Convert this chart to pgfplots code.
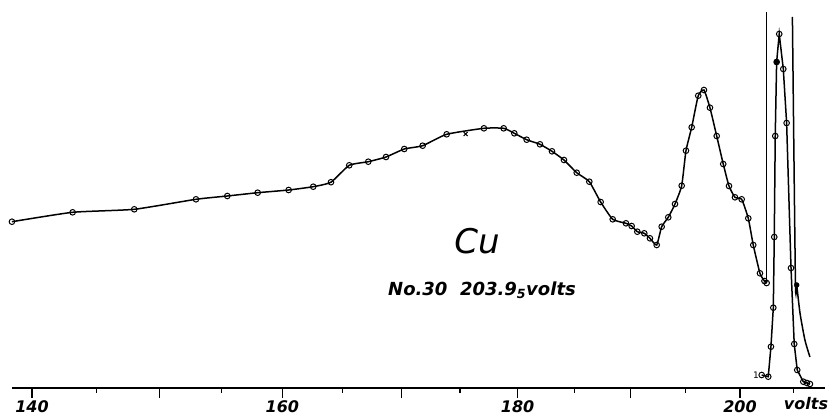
\documentclass[border=0pt]{standalone}
\usepackage{fontspec}
\setmainfont{DejaVu Sans}
\usepackage{pgfplots}
\pgfplotsset{compat=1.18}
\usepackage{pgfplotstable}

\pgfplotstableread{
V h
138.46 166.3
143.16 175.7
148.01 178.7
152.95 188.7
155.49 192.0
157.97 195.3
160.52 198.0
162.56 201.3
164.04 205.8
165.57 222.7
167.17 226.3
168.67 231.0
170.22 239.0
171.79 242.3
173.85 253.7
177.07 259.7
178.79 259.7
179.72 254.7
180.80 248.3
181.97 243.7
183.03 236.7
184.09 228.0
185.22 215.3
186.34 206.3
187.35 186.0
188.43 168.7
189.62 164.7
190.13 162.0
190.64 156.3
191.27 154.7
191.78 149.7
192.39 143.0
192.84 161.3
193.44 170.7
194.05 184.0
194.66 202.3
195.05 237.3
195.57 260.7
196.17 292.3
196.69 298.0
197.24 280.3
197.86 252.0
198.46 224.0
198.99 202.0
199.54 190.7
200.16 188.7
200.77 169.7
201.23 143.0
201.85 114.7
202.27 107.0
202.47 105.0
}\mainpts

\pgfplotstableread{
V h
202.47 105
202.47 376
}\leftrise

\pgfplotstableread{
V h
204.87 371
205.15 108
205.27 103
205.58 75
206.04 48
206.51 31
}\rightfall

\pgfplotstableread{
V h
202.01 13
202.62 11.3
202.87 41.3
203.09 80.3
203.18 151
203.27 252
203.40 326
203.64 354
204.02 319
204.33 265
204.74 120
205.04 44
205.32 18
205.89 6.3
206.23 5
206.51 4
}\inner

\begin{document}
\begin{tikzpicture}[x=1pt,y=1pt]
\useasboundingbox (0,0) rectangle (835,418);
\begin{axis}[
  at={(12pt,30pt)}, anchor=south west,
  scale only axis, width=813pt, height=388pt,
  x coord trafo/.code={\pgfmathparse{sqrt(#1)}},
  x coord inv trafo/.code={\pgfmathparse{(#1)^2}},
  xmin=138.46, xmax=207.92, ymin=0, ymax=388,
  axis x line=bottom, axis y line=none,
  axis line style={-, line width=1.5pt},
  xtick={140,150,160,170,180,190,200},
  minor xtick={145,155,165,175,185,195,205},
  xticklabels={140,,160,,180,,200},
  major tick length=10pt, minor tick length=5pt,
  tick align=outside,
  every tick/.style={line width=1.2pt, black},
  xticklabel style={font=\fontsize{16}{16}\selectfont\bfseries\itshape, yshift=1pt},
  clip=false,
]
\addplot[black, line width=1.5pt, smooth, tension=0.3, no marks] table {\mainpts};
\addplot[black, only marks, mark=o, mark size=2.8pt, mark options={line width=1pt, fill=white}] table {\mainpts};
\addplot[black, only marks, mark=x, mark size=2.8pt, mark options={line width=1pt}] coordinates {(175.49,254)};
\addplot[black, line width=1.5pt, no marks] table {\leftrise};
\addplot[black, line width=1.5pt, smooth, tension=0.4, no marks] table {\rightfall};
\addplot[black, only marks, mark=*, mark size=2.5pt] coordinates {(205.27,103)};
\addplot[black, line width=1.5pt, mark=o, mark size=2.8pt, mark options={line width=1pt, fill=white}] table {\inner};
\addplot[black, only marks, mark=*, mark size=2.6pt] coordinates {(203.40,326)};
\end{axis}
\node[font=\fontsize{34}{34}\selectfont\itshape] at (477,177) {Cu};
\node[font=\fontsize{18}{18}\selectfont\bfseries\itshape] at (482,128) {No.30\ \ 203.9\textsubscript{5}volts};
\node[font=\fontsize{16}{16}\selectfont\bfseries\itshape] at (806,14) {volts};
\node[font=\fontsize{9}{9}\selectfont] at (756,43) {1};
\end{tikzpicture}
\end{document}
